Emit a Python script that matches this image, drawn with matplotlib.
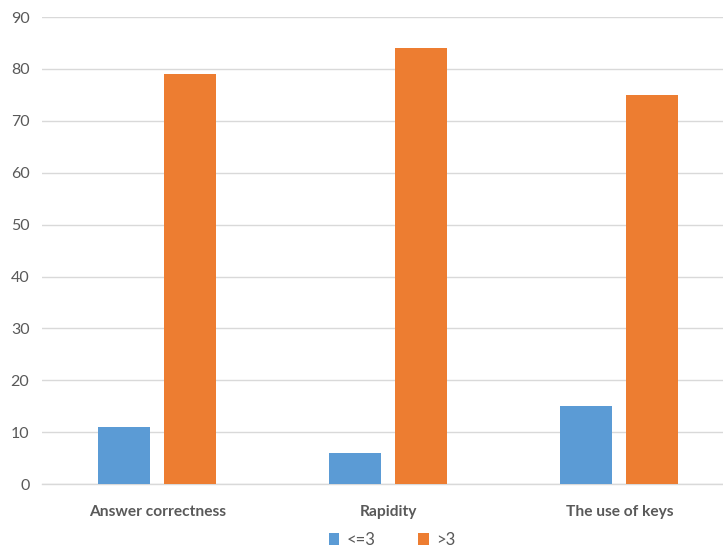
import numpy as np
import matplotlib.pyplot as plt

categories = ["Answer correctness", "Rapidity", "The use of keys"]
low = [11, 6, 15]
high = [79, 84, 75]
series_names = ["<=3", ">3"]

plt.rcParams['font.family'] = ['Lato', 'DejaVu Sans']

fig = plt.figure(figsize=(7.23, 5.52), dpi=100)
ax = fig.add_axes([0.058, 0.123, 0.9585, 0.846])

x = np.arange(len(categories))
w = 0.225
b1 = ax.bar(x - 0.143, low, w, color="#5B9BD5", label=series_names[0], zorder=3)
b2 = ax.bar(x + 0.143, high, w, color="#ED7D31", label=series_names[1], zorder=3)

ax.set_xlim(-0.5, 2.5)
ax.set_ylim(0, 90)
ax.set_yticks(range(0, 91, 10))
ax.set_xticks(x)
ax.set_xticklabels(categories, fontsize=11.2, fontweight="bold", color="#595959")
ax.tick_params(axis="y", labelsize=11.5, labelcolor="#595959", length=0, pad=9)
ax.tick_params(axis="x", length=0, pad=15)
ax.grid(axis="y", color="#D9D9D9", linewidth=1, zorder=0)
for s in ["top", "right", "left"]:
    ax.spines[s].set_visible(False)
ax.spines["bottom"].set_color("#D9D9D9")
ax.spines["bottom"].set_linewidth(1)

fig.legend(handles=[b1, b2], loc="center", bbox_to_anchor=(0.542, 0.022), ncol=2,
           frameon=False, fontsize=12, labelcolor="#595959",
           handlelength=0.65, handleheight=0.65, columnspacing=2.6, handletextpad=0.4)

fig.savefig("out.png", dpi=100)
